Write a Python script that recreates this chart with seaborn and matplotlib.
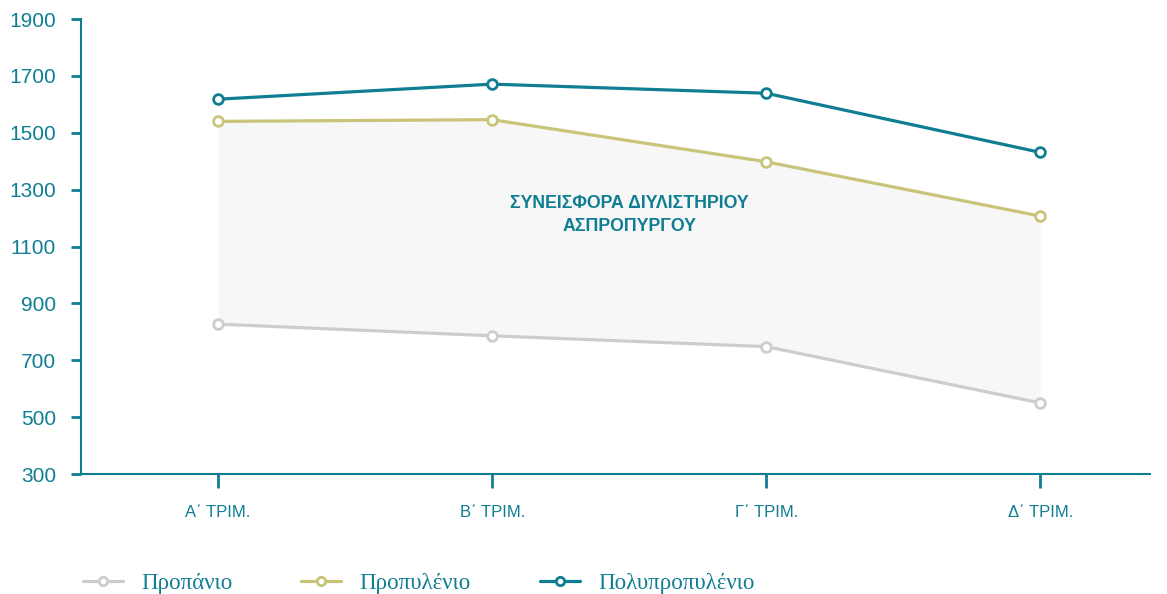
import pandas as pd
import seaborn as sns
import matplotlib.pyplot as plt

quarters = ['Α΄ ΤΡΙΜ.', 'Β΄ ΤΡΙΜ.', 'Γ΄ ΤΡΙΜ.', 'Δ΄ ΤΡΙΜ.']
propane = [827, 786, 748, 550]
propylene = [1540, 1546, 1398, 1207]
polypropylene = [1618, 1671, 1639, 1431]
series_names = ['Προπάνιο', 'Προπυλένιο', 'Πολυπροπυλένιο']
yticks = [300, 500, 700, 900, 1100, 1300, 1500, 1700, 1900]
note = 'ΣΥΝΕΙΣΦΟΡΑ ΔΙΥΛΙΣΤΗΡΙΟΥ\nΑΣΠΡΟΠΥΡΓΟΥ'

teal = '#0f7d92'
olive = '#c9c47a'
grey = '#cdcdcd'
colors = [grey, olive, teal]

sns.set_style('white')
plt.rcParams['font.family'] = ['Liberation Sans', 'DejaVu Sans']

df = pd.DataFrame({
    'x': list(range(4)) * 3,
    'value': propane + propylene + polypropylene,
    'series': [s for s in series_names for _ in range(4)],
})

fig = plt.figure(figsize=(11.67, 5.94), dpi=100)
ax = fig.add_axes([0.0694, 0.202, 0.916, 0.766])

ax.fill_between(range(4), propane, propylene, color='#f7f7f7', lw=0, zorder=0)

sns.lineplot(data=df, x='x', y='value', hue='series', palette=colors,
             marker='o', markersize=7, markerfacecolor='white',
             markeredgewidth=2, linewidth=2.3, ax=ax, legend=False)
for line, c in zip(ax.get_lines(), colors):
    line.set_markeredgecolor(c)

ax.text(1.5, 1210, note, ha='center', va='center', color=teal,
        fontsize=12.8, fontweight='bold', linespacing=1.45)

ax.set_xlim(-0.5, 3.4)
ax.set_ylim(300, 1900)
ax.set_yticks(yticks)
ax.set_xticks(range(4))
ax.set_xticklabels(quarters)
ax.set(xlabel='', ylabel='')

for side in ['top', 'right']:
    ax.spines[side].set_visible(False)
for side in ['left', 'bottom']:
    ax.spines[side].set_color(teal)
    ax.spines[side].set_linewidth(1.5)

ax.tick_params(axis='y', colors=teal, labelsize=15, length=7, width=2,
               direction='out', left=True, pad=11)
ax.tick_params(axis='x', colors=teal, labelsize=12, length=10, width=2,
               direction='out', bottom=True, pad=12)

handles = [plt.Line2D([], [], color=c, marker='o', markersize=6,
                      markerfacecolor='white', markeredgecolor=c,
                      markeredgewidth=2, linewidth=2.3) for c in colors]
leg = fig.legend(handles, series_names, loc='center left',
                 bbox_to_anchor=(0.061, 0.017), ncol=3, frameon=False,
                 borderpad=0, handlelength=1.75, handletextpad=0.8,
                 columnspacing=3.0,
                 prop={'family': 'Liberation Serif', 'size': 16.5})
for t in leg.get_texts():
    t.set_color(teal)

fig.savefig('out.png', dpi=100)
